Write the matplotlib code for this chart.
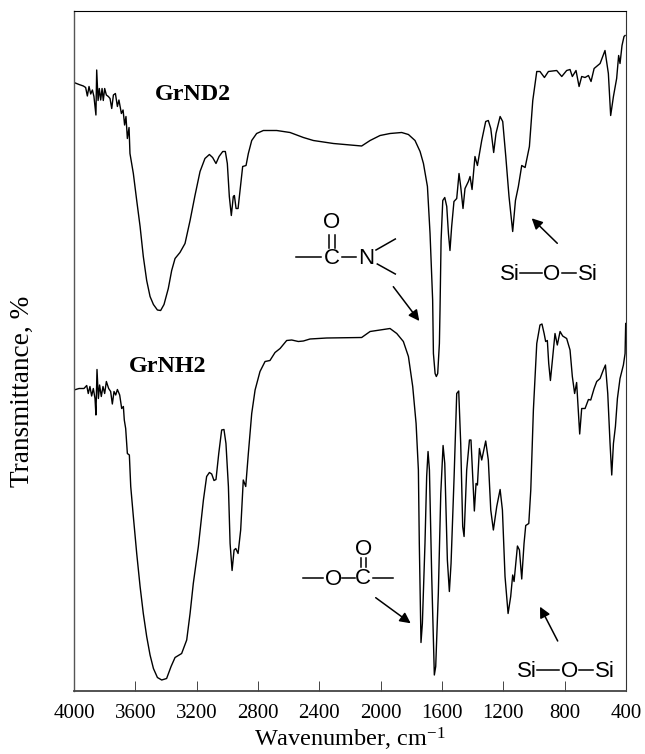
import matplotlib
matplotlib.use("Agg")
import matplotlib.pyplot as plt
from matplotlib.lines import Line2D

plt.rcParams['font.family'] = 'Liberation Serif'
plt.rcParams['mathtext.fontset'] = 'custom'
plt.rcParams['mathtext.rm'] = 'Liberation Serif'
plt.rcParams['mathtext.default'] = 'regular'

# wavenumber (cm-1) and relative transmittance
wn_grnd2 = [4000, 3967, 3939, 3924, 3913, 3902, 3891, 3880, 3870, 3857, 3852, 3843, 3835, 3826, 3817,
            3809, 3800, 3789, 3776, 3765, 3754, 3743, 3730, 3717, 3707, 3691, 3680, 3670, 3661, 3652, 3641,
            3635, 3613, 3591, 3569, 3548, 3526,
            3504, 3482, 3456, 3435, 3413, 3385, 3363, 3341, 3309, 3276, 3243, 3211, 3178, 3146, 3117,
            3096, 3074, 3054, 3030, 3013, 3000, 2987, 2974, 2961, 2954, 2943, 2930, 2917, 2900, 2878,
            2863, 2841, 2809, 2765, 2678, 2591, 2504, 2439, 2308, 2124, 2069, 2004, 1939, 1863, 1819,
            1776, 1743, 1721, 1695, 1678, 1661, 1656, 1645, 1637, 1628, 1617, 1613, 1606, 1595, 1582,
            1569, 1558, 1548, 1537, 1522, 1504, 1489, 1478, 1463, 1450, 1428, 1417, 1404, 1385, 1369,
            1341, 1315, 1298, 1282, 1263, 1248, 1221, 1204, 1184, 1163, 1139, 1121, 1102, 1080, 1058,
            1030, 1008, 982, 961, 932, 906, 852, 819, 787, 765, 750, 726, 706, 689, 667,
            645, 628, 608, 569, 537, 515, 500, 482, 461, 448, 439, 426, 413, 406]
tr_grnd2 = [608, 606, 604.5, 603, 594.5, 604, 596.5, 600.5, 594, 575.5, 620.5, 590, 602, 590.5, 602,
            590, 602, 595.5, 594, 592, 582, 595.5, 597, 584, 590.5, 577, 580.5, 565.5, 574, 552, 563,
            537, 517, 490, 464, 434, 410,
            394, 386, 380.5, 380, 386, 402, 420, 432, 438, 447, 470, 495, 519, 532, 536,
            533, 527, 534, 539, 539, 527, 494, 475, 494, 495, 482, 482, 500, 524, 525,
            537, 550, 557, 560, 560, 558, 553, 550, 547, 544.5, 550, 555, 557, 558, 556,
            550, 539, 527, 504, 457, 390.5, 337, 317, 314, 317, 347, 380, 450, 490, 493,
            484, 457, 440, 464, 489, 492, 517, 504, 482, 502, 509, 514, 501, 534, 525,
            550, 569, 570, 562, 538, 557, 574, 569, 534, 494, 459, 490, 504, 525, 523,
            544, 590, 619, 619, 613, 619, 620, 614, 620, 621, 614, 620, 604, 614, 613,
            615, 609, 622, 627, 640, 617, 575, 594, 612, 635, 627, 645, 654, 655]

wn_grnh2 = [4000, 3967, 3935, 3917, 3907, 3896, 3885, 3874, 3863, 3857, 3850, 3841, 3833, 3822, 3811,
            3800, 3789, 3774, 3761, 3750, 3739, 3728, 3717, 3702, 3689, 3678, 3672, 3663,
            3652, 3639, 3630, 3613, 3591, 3569, 3548,
            3526, 3504, 3482, 3456, 3428, 3396, 3367, 3341, 3298, 3265, 3243, 3222, 3189, 3156, 3135,
            3117, 3102, 3087, 3074, 3056, 3037, 3022, 3009, 2993, 2982, 2969, 2956, 2945, 2930, 2913,
            2896, 2880, 2863, 2841, 2819, 2787, 2754, 2722, 2689, 2656, 2613, 2580, 2537, 2504, 2461,
            2352, 2124, 2069, 2004, 1939, 1895, 1852, 1819, 1791, 1769, 1754, 1748, 1737, 1728, 1711,
            1700, 1691, 1682, 1667, 1650, 1641, 1624, 1608, 1593, 1582, 1565, 1552, 1541, 1521, 1504,
            1491, 1478, 1465, 1456, 1439, 1421, 1411, 1400, 1389, 1378, 1369, 1356, 1341, 1315, 1298,
            1282, 1265, 1243, 1221, 1206, 1189, 1169, 1152, 1139, 1130, 1108, 1095, 1080, 1065, 1054,
            1034, 1021, 1004, 982, 961, 948, 934, 924, 913, 904, 893, 880, 863, 848, 830,
            813, 787, 765, 750, 735, 722, 711, 702, 689, 667, 645, 630, 608, 591, 569,
            548, 534, 519, 504, 493, 482, 469, 456, 439, 417, 406, 402]
tr_grnh2 = [300.5, 302, 302, 305, 297, 304, 294.5, 302, 292, 275.5, 321, 292, 305.5, 294, 304,
            297, 309, 302, 299, 286.5, 299, 295.5, 301, 295.5, 282, 284, 270.5, 262,
            237, 235.5, 204, 174, 137, 104, 77,
            54, 35.5, 22, 13, 10.5, 12, 24, 33, 37, 50.5, 77, 107, 144, 190.5, 214,
            218, 216.5, 210, 211, 237, 260.5, 261, 247, 204, 147, 120, 140.5, 142, 137, 160.5,
            210.5, 204, 237, 277, 300.5, 319, 329, 330, 338, 342, 350, 350.5, 349, 349.5, 351.5,
            352.5, 353, 359, 360.5, 362, 357, 349, 334, 304, 267, 220.5, 147, 48, 67, 147,
            214, 239, 220.5, 114, 15.5, 24, 97, 197, 245, 227, 130.5, 99, 127, 214, 297,
            299.5, 247, 164, 154, 220.5, 250.5, 250.5, 214, 179.5, 207, 205.5, 242, 230.5, 249.5, 230.5,
            180.5, 160.5, 184, 201, 180.5, 114, 77, 94, 115.5, 109, 144.5, 140.5, 111.5, 147, 165,
            167, 200.5, 280.5, 347, 365.5, 366.5, 357, 349, 350, 327, 310, 330.5, 357, 345.5, 359,
            354.5, 352, 340.5, 314, 297, 308, 280.5, 256.5, 282, 282, 291, 290.5, 302, 309, 312,
            320.5, 325.5, 297, 247, 215.5, 247, 264, 292, 312, 325.5, 337, 367]

ticks = [4000, 3600, 3200, 2800, 2400, 2000, 1600, 1200, 800, 400]

W, H = 645, 754
fig = plt.figure(figsize=(W / 100, H / 100), dpi=100)
ax = fig.add_axes([74 / W, 1 - 690.5 / H, 552 / W, 679 / H])


def fx(x, y):
    # reference pixel to figure fraction
    return x / W, 1 - y / H


def bond(x1, y1, x2, y2):
    a = fx(x1, y1)
    b = fx(x2, y2)
    fig.add_artist(Line2D([a[0], b[0]], [a[1], b[1]], color='black', lw=1.1))


def atom(x, y, s):
    a = fx(x, y)
    fig.text(a[0], a[1], s, family='Liberation Sans', fontsize=16, ha='center', va='center')


def arrow(x1, y1, x2, y2):
    ax.annotate('', xy=fx(x2, y2), xytext=fx(x1, y1), xycoords='figure fraction',
                textcoords='figure fraction',
                arrowprops=dict(arrowstyle='-|>', color='black', lw=1.1, mutation_scale=16,
                                shrinkA=0, shrinkB=0))


def siloxane(x, dy, y):
    atom(x, y, 'Si')
    bond(x + 10, y - 1.7, x + 32, y - 1.7)
    atom(x + 42, y, 'O')
    bond(x + 52, y - 1.7, x + dy, y - 1.7)
    atom(x + 78, y, 'Si')


ax.plot(wn_grnd2, tr_grnd2, color='black', lw=1.0)
ax.plot(wn_grnh2, tr_grnh2, color='black', lw=1.0)

ax.set_xlim(4000, 400)
ax.set_ylim(0, 679)
ax.set_xticks(ticks)
ax.set_yticks([])
ax.tick_params(axis='x', direction='in', length=7, width=0.7, color='#444444', labelsize=15, pad=10)
ax.set_xlabel('Wavenumber, cm$^{-1}$', fontsize=17.5, labelpad=2)
for side in ['top', 'right']:
    ax.spines[side].set_linewidth(0.8)
ax.spines['bottom'].set_linewidth(1.3)
ax.spines['bottom'].set_color('#444444')
ax.spines['left'].set_linewidth(1.0)
ax.spines['left'].set_color('#555555')
ax.spines['right'].set_color('#333333')

fig.text(22 / W, 1 - 391 / H, 'Transmittance, %', fontsize=19.6, rotation=90, ha='center', va='center')
fig.text(*fx(193, 95), 'GrND2', fontsize=17.3, fontweight='bold', ha='center', va='center')
fig.text(*fx(168, 367), 'GrNH2', fontsize=17.3, fontweight='bold', ha='center', va='center')

# amide group
atom(331.7, 223, 'O')
bond(328.7, 235, 328.7, 248)
bond(334.7, 235, 334.7, 248)
atom(331.7, 258, 'C')
bond(296, 256.5, 320.7, 256.5)
bond(342, 256.5, 355.7, 256.5)
atom(365.7, 258, 'N')
bond(376, 250, 395.3, 239)
bond(377.3, 264, 395.3, 274)
arrow(393.3, 286.7, 419.3, 321)

# ester group
atom(363.3, 549.3, 'O')
bond(360.7, 558, 360.7, 567)
bond(366, 558, 366, 567)
atom(363.3, 579, 'C')
bond(373.3, 577.7, 393.3, 577.7)
atom(333.3, 579.3, 'O')
bond(303.3, 577.7, 323.3, 577.7)
bond(341.7, 577.7, 355, 577.7)
arrow(375.7, 597.7, 410.7, 623.3)

# Si-O-Si labels
siloxane(510, 66, 275)
arrow(557.3, 243.3, 531.7, 218.3)
siloxane(527.3, 65.4, 671.7)
arrow(557.7, 641, 540, 606.7)

fig.savefig('out.png', dpi=100)
